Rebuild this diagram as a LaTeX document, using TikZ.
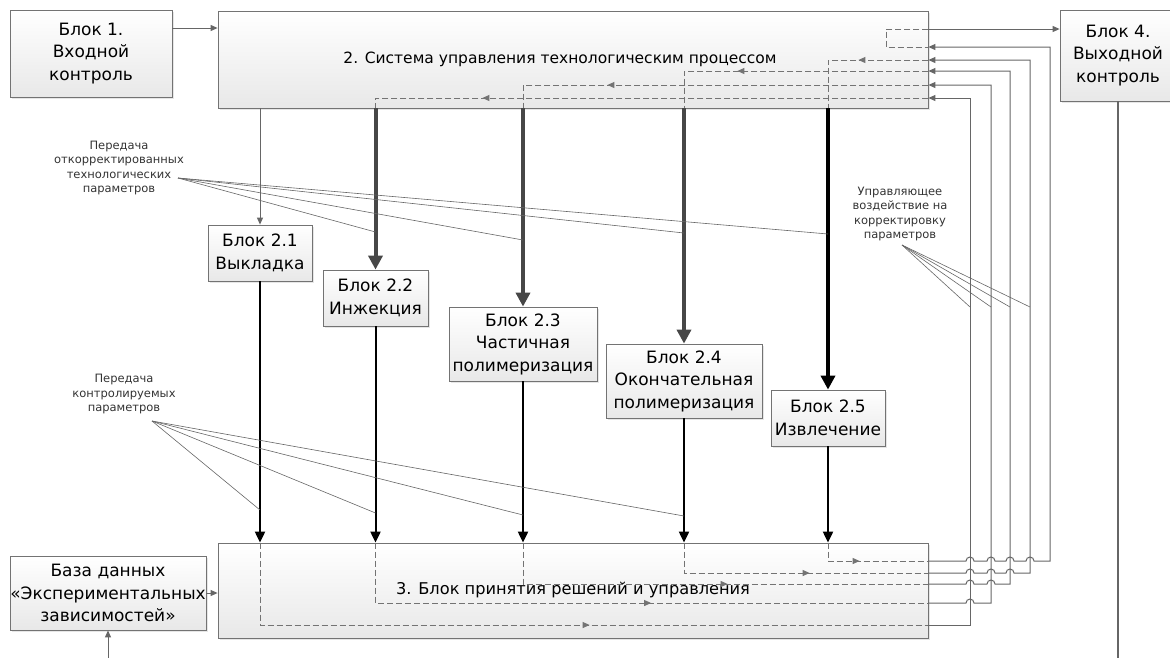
\documentclass[tikz,border=0pt]{standalone}
\usepackage{fontspec}
\setmainfont{DejaVu Sans}
\usetikzlibrary{arrows.meta, calc, shadows, decorations.markings}

\tikzset{
	blk/.style={draw=black!55, line width=0.8pt, top color=white, bottom color=black!9, drop shadow={shadow xshift=1.5pt, shadow yshift=-1.5pt, opacity=0.2}, align=center, font=\fontsize{17}{22.5}\selectfont, inner sep=0pt},
	note/.style={align=center, font=\fontsize{11.5}{14.5}\selectfont, text=black!80, inner sep=0pt},
	feed/.style={draw=black!60, line width=1pt},
	feedin/.style={feed, -{Triangle[length=7pt,width=6pt]}},
	dashln/.style={draw=black!55, line width=1pt, dash pattern=on 6pt off 3pt},
	midtip/.style={postaction={decorate}, decoration={markings, mark=at position #1 with {\arrow{Triangle[length=7pt,width=6pt]}}}},
	boldarr/.style={draw=black!72, line width=4pt, -{Triangle[length=14pt,width=14pt]}},
	downarr/.style={draw=black, line width=2pt, -{Triangle[length=11pt,width=10pt]}},
	pointer/.style={draw=black!60, line width=0.6pt},
}

\begin{document}
\begin{tikzpicture}[x=1pt, y=-1pt]
	\useasboundingbox (0,0) rectangle (1170,657);

	\node[blk, minimum width=162pt, minimum height=87pt] (b1) at (91, 53.5) {Блок 1.\\Входной\\контроль};
	\node[blk, font=\fontsize{15.5}{20}\selectfont, minimum width=710pt, minimum height=97pt] (sys2) at (573, 59.5) {2. Система управления технологическим процессом\hspace*{26pt}};
	\node[blk, minimum width=116pt, minimum height=91pt] (b4) at (1118, 55.5) {Блок 4.\\Выходной\\контроль};

	\node[blk, minimum width=104pt, minimum height=56pt] (b21) at (260, 253) {Блок 2.1\\Выкладка};
	\node[blk, minimum width=105pt, minimum height=56pt] (b22) at (375.5, 298) {Блок 2.2\\Инжекция};
	\node[blk, minimum width=148pt, minimum height=74pt] (b23) at (523, 344) {Блок 2.3\\Частичная\\полимеризация};
	\node[blk, minimum width=156pt, minimum height=74pt] (b24) at (684, 381) {Блок 2.4\\Окончательная\\полимеризация};
	\node[blk, minimum width=114pt, minimum height=56pt] (b25) at (828, 418) {Блок 2.5\\Извлечение};

	\node[blk, font=\fontsize{16.2}{20}\selectfont, minimum width=710pt, minimum height=95pt] (dec3) at (573, 590.5) {3. Блок принятия решений и управления};
	\node[blk, minimum width=196pt, minimum height=74pt] (db) at (108, 593) {База данных\\«Экспериментальных\\зависимостей»};

	\node[note] (note1) at (119, 168) {Передача\\откорректированных\\технологических\\параметров};
	\node[note] (note2) at (900, 214) {Управляющее\\воздействие на\\корректировку\\параметров};
	\node[note] (note3) at (124, 394) {Передача\\контролируемых\\параметров};

	\coordinate (n1) at (178, 178);
	\coordinate (n2) at (902, 245);
	\coordinate (n3) at (152, 421);
	\coordinate (dbin) at (108, 660);
	\coordinate (b4out) at (1118, 660);

	\draw[feedin] (b1.east |- 0,28) -- (sys2.west |- 0,28);
	\draw[dashln] (sys2.east |- 0,29) -- (886,29) -- (886,47) -- (sys2.east |- 0,47);
	\draw[feedin] (sys2.east |- 0,29) -- (b4.west |- 0,29);
	\draw[feed, line width=1.5pt] (b4.south) -- (b4out);
	\draw[feedin] (dbin) -- (db.south);
	\draw[feedin] (db.east) -- (dec3.west |- db.east);

	\draw[feedin] (b21 |- sys2.south) -- (b21.north);
	\draw[boldarr] (b22 |- sys2.south) -- (b22.north);
	\draw[boldarr] (b23 |- sys2.south) -- (b23.north);
	\draw[boldarr] (b24 |- sys2.south) -- (b24.north);
	\draw[boldarr, draw=black] (b25 |- sys2.south) -- (b25.north);

	\draw[downarr] (b21.south) -- (b21 |- dec3.north);
	\draw[downarr] (b22.south) -- (b22 |- dec3.north);
	\draw[downarr] (b23.south) -- (b23 |- dec3.north);
	\draw[downarr] (b24.south) -- (b24 |- dec3.north);
	\draw[downarr] (b25.south) -- (b25 |- dec3.north);

	\draw[dashln, midtip=446pt] (sys2.east |- 0,98) -- (b22 |- 0,98) -- (b22 |- sys2.south);
	\draw[dashln, midtip=321pt] (sys2.east |- 0,85) -- (b23 |- 0,85) -- (b23 |- sys2.south);
	\draw[dashln, midtip=191pt] (sys2.east |- 0,71) -- (b24 |- 0,71) -- (b24 |- sys2.south);
	\draw[dashln, midtip=70pt] (sys2.east |- 0,60) -- (b25 |- 0,60) -- (b25 |- sys2.south);

	\draw[dashln, midtip=412pt] (b21 |- dec3.north) -- (b21 |- 0,625) -- (dec3.east |- 0,625);
	\draw[dashln, midtip=336pt] (b22 |- dec3.north) -- (b22 |- 0,603) -- (dec3.east |- 0,603);
	\draw[dashln, midtip=246pt] (b23 |- dec3.north) -- (b23 |- 0,584) -- (dec3.east |- 0,584);
	\draw[dashln, midtip=156pt] (b24 |- dec3.north) -- (b24 |- 0,573) -- (dec3.east |- 0,573);
	\draw[dashln, midtip=50pt] (b25 |- dec3.north) -- (b25 |- 0,561) -- (dec3.east |- 0,561);

	\draw[feedin] (dec3.east |- 0,625) -- (970,625) -- (970,98) -- (sys2.east |- 0,98);
	\draw[feedin] (dec3.east |- 0,603) -- (966,603) arc[start angle=180, end angle=0, radius=4pt] -- (991,603) -- (991,85) -- (sys2.east |- 0,85);
	\draw[feedin] (dec3.east |- 0,584) -- (966,584) arc[start angle=180, end angle=0, radius=4pt] -- (987,584) arc[start angle=180, end angle=0, radius=4pt] -- (1010,584) -- (1010,71) -- (sys2.east |- 0,71);
	\draw[feedin] (dec3.east |- 0,573) -- (966,573) arc[start angle=180, end angle=0, radius=4pt] -- (987,573) arc[start angle=180, end angle=0, radius=4pt] -- (1006,573) arc[start angle=180, end angle=0, radius=4pt] -- (1030,573) -- (1030,60) -- (sys2.east |- 0,60);
	\draw[feedin] (dec3.east |- 0,561) -- (966,561) arc[start angle=180, end angle=0, radius=4pt] -- (987,561) arc[start angle=180, end angle=0, radius=4pt] -- (1006,561) arc[start angle=180, end angle=0, radius=4pt] -- (1026,561) arc[start angle=180, end angle=0, radius=4pt] -- (1050,561) -- (1050,47) -- (sys2.east |- 0,47);

	\draw[pointer] (n1) -- (b22 |- 0,232);
	\draw[pointer] (n1) -- (b23 |- 0,240);
	\draw[pointer] (n1) -- (b24 |- 0,233);
	\draw[pointer] (n1) -- (b25 |- 0,234);

	\draw[pointer] (n2) -- (970,307);
	\draw[pointer] (n2) -- (991,307);
	\draw[pointer] (n2) -- (1010,307);
	\draw[pointer] (n2) -- (1030,307);

	\draw[pointer] (n3) -- (b21 |- 0,510);
	\draw[pointer] (n3) -- (b22 |- 0,513);
	\draw[pointer] (n3) -- (b23 |- 0,515);
	\draw[pointer] (n3) -- (b24 |- 0,516);
\end{tikzpicture}
\end{document}
